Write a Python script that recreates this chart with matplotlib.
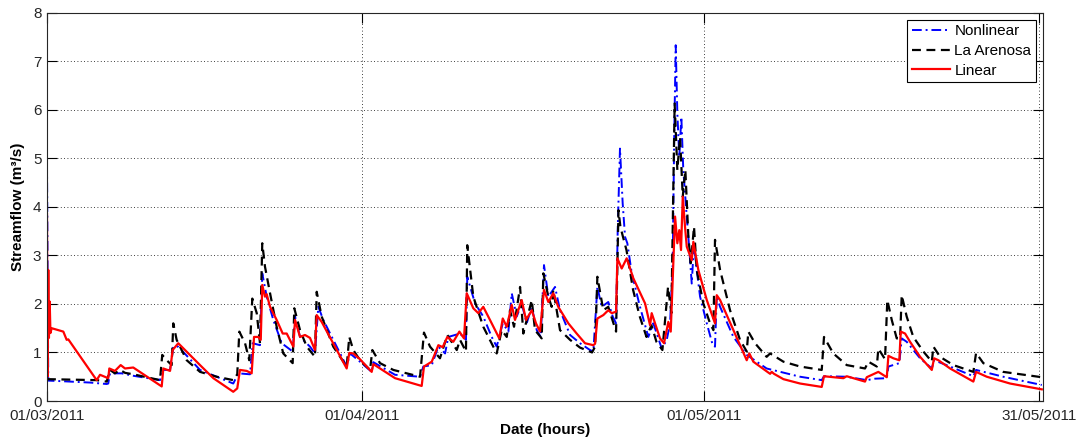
import matplotlib
matplotlib.use("Agg")
import matplotlib.pyplot as plt

plt.rcParams["font.family"] = ["Liberation Sans", "DejaVu Sans"]

# time axis in days from 01/03/2011 (positions)
tick_pos = [0, 29.13, 60.68, 91.69]
tick_labels = ["01/03/2011", "01/04/2011", "01/05/2011", "31/05/2011"]

# Nonlinear model
t_nonlin = [0, 0.12, 1.20, 3.97, 5.52, 5.66, 5.82, 6.90, 7.97, 10.44, 10.75, 11.37, 11.67, 12.13,
            14.14, 17.21, 17.68, 18.76, 19.01, 19.68, 19.89, 20.30, 20.91, 21.69, 22.70, 22.92,
            23.38, 24.30, 24.76, 25.07, 25.53, 27.69, 28.00, 28.92, 30.00, 30.15, 32.16, 34.47,
            34.77, 35.55, 36.16, 36.78, 37.08, 38.16, 38.71, 38.83, 39.55, 40.31, 41.09, 41.55,
            42.11, 42.63, 42.94, 43.40, 43.86, 44.32, 44.79, 45.25, 45.62, 45.92, 46.32, 46.94,
            47.40, 48.33, 49.25, 50.17, 50.48, 50.85, 51.25, 51.86, 52.27, 52.58, 52.73, 52.94,
            53.19, 53.41, 53.62, 54.03, 54.79, 55.56, 56.02, 56.80, 57.26, 57.57, 57.81, 57.96,
            58.09, 58.24, 58.42, 58.61, 58.79, 59.11, 59.35, 59.57, 59.78, 60.03, 60.34, 60.96,
            61.51, 61.72, 61.88, 62.19, 63.42, 64.65, 66.49, 69.58, 71.58, 71.79, 73.89, 75.74,
            76.51, 77.59, 77.74, 78.75, 78.97, 79.43, 80.67, 81.75, 81.96, 83.44, 85.59, 85.84,
            88.35, 91.91]
q_nonlin = [4.90, 0.42, 0.41, 0.38, 0.35, 0.36, 0.57, 0.57, 0.52, 0.43, 0.64, 0.64, 1.12, 1.12,
            0.64, 0.36, 0.57, 0.55, 1.19, 1.15, 2.63, 2.15, 1.67, 1.19, 1.02, 1.74,
            1.32, 1.12, 0.98, 1.94, 1.67, 0.71, 0.98, 0.81, 0.60, 0.80, 0.54, 0.50,
            0.71, 0.74, 1.12, 0.98, 1.32, 1.39, 1.26, 2.56, 2.01, 1.74, 1.32, 1.12,
            1.60, 1.43, 2.22, 1.74, 2.01, 1.60, 1.94, 1.46, 1.32, 2.80, 2.15, 2.35,
            1.87, 1.36, 1.19, 1.05, 1.02, 2.35, 1.94, 2.04, 1.74, 1.60, 3.52, 5.20,
            4.07, 3.38, 3.25, 2.63, 1.94, 1.32, 1.60, 1.08, 1.26, 1.60, 2.84, 5.58,
            7.33, 5.93, 5.03, 5.85, 4.76, 3.80, 3.11, 2.42, 3.25, 2.70, 2.15, 1.60,
            1.15, 1.12, 2.15, 1.94, 1.32, 0.95, 0.67, 0.50, 0.43, 0.51, 0.50, 0.43,
            0.46, 0.47, 0.71, 0.78, 1.29, 1.22, 0.88, 0.67, 0.84, 0.71, 0.51, 0.64,
            0.50, 0.33]

# La Arenosa (observed)
t_obs = [0, 4.59, 5.52, 5.82, 6.28, 6.75, 7.21, 7.97, 10.44, 10.65, 11.06, 11.52, 11.67, 11.98,
         12.91, 14.14, 15.68, 17.21, 17.58, 17.77, 18.30, 18.69, 18.97, 19.38, 19.68, 19.89,
         20.14, 20.61, 21.22, 21.83, 22.70, 22.85, 23.38, 24.00, 24.76, 24.92, 25.38, 26.45,
         27.69, 27.93, 28.30, 28.92, 29.85, 30.06, 30.77, 32.00, 34.47, 34.83, 35.39, 36.31,
         36.99, 37.86, 38.16, 38.71, 38.83, 39.39, 40.31, 41.55, 42.01, 42.48, 42.78, 43.15,
         43.71, 44.01, 44.79, 45.09, 45.71, 45.86, 46.32, 46.63, 46.78, 47.40, 48.33, 49.25,
         50.36, 50.64, 50.85, 51.40, 51.86, 52.58, 52.80, 52.98, 53.22, 53.54, 54.15, 54.77,
         55.39, 55.85, 56.31, 56.86, 57.38, 57.69, 57.99, 58.24, 58.49, 58.74, 58.98, 59.26,
         59.48, 59.78, 60.03, 60.64, 61.26, 61.57, 61.72, 62.19, 63.11, 64.03, 64.65, 64.80,
         65.42, 66.49, 66.81, 68.04, 69.58, 71.58, 71.79, 72.65, 73.89, 75.58, 75.89, 76.67,
         76.81, 77.43, 77.64, 78.05, 78.51, 78.82, 78.97, 79.43, 80.04, 80.97, 81.75, 81.90,
         82.51, 83.74, 85.59, 85.84, 86.51, 88.35, 91.91]
q_obs = [0.45, 0.43, 0.40, 0.64, 0.57, 0.64, 0.58, 0.55, 0.43, 0.95, 0.84, 0.74, 1.60, 1.26,
         0.84, 0.60, 0.50, 0.43, 0.55, 1.43, 1.19, 0.84, 2.11, 1.81, 1.19, 3.25,
         2.77, 2.22, 1.53, 0.98, 0.78, 1.91, 1.46, 1.12, 0.91, 2.25, 1.74, 1.12,
         0.71, 1.32, 1.05, 0.84, 0.64, 1.05, 0.78, 0.64, 0.50, 1.41, 1.12, 0.88,
         1.36, 1.05, 1.26, 1.02, 3.21, 2.15, 1.53, 0.98, 1.46, 1.32, 1.87, 1.53,
         2.35, 1.39, 2.08, 1.46, 1.29, 2.63, 2.15, 1.94, 2.29, 1.46, 1.26, 1.10,
         1.00, 1.12, 2.56, 1.87, 1.94, 1.43, 3.93, 3.59, 3.38, 3.11, 2.29, 1.74,
         1.32, 1.56, 1.22, 1.05, 2.35, 1.81, 6.13, 4.76, 5.44, 4.21, 4.76, 3.38,
         2.84, 3.59, 2.70, 2.01, 1.60, 1.46, 3.32, 2.70, 1.87, 1.26, 1.02, 1.43,
         1.19, 0.91, 0.98, 0.81, 0.71, 0.64, 1.32, 0.98, 0.74, 0.67, 0.81, 0.71,
         1.08, 0.86, 2.08, 1.67, 1.29, 1.29, 2.18, 1.74, 1.32, 1.02, 0.81, 1.12,
         0.91, 0.74, 0.60, 0.99, 0.78, 0.60, 0.49]

# Linear model
t_lin = [0, 0.05, 0.12, 0.18, 0.25, 0.32, 0.43, 1.51, 1.82, 1.97, 4.59, 4.90, 5.66, 5.76, 6.28,
         6.81, 7.21, 7.97, 10.60, 10.75, 11.37, 11.61, 12.13, 14.14, 15.37, 17.21, 17.58, 17.83,
         18.45, 18.91, 19.13, 19.52, 19.75, 19.89, 20.14, 20.30, 20.61, 21.22, 21.78, 22.15,
         22.76, 22.92, 23.38, 23.84, 24.30, 24.76, 24.92, 25.38, 27.69, 27.93, 28.30, 28.92,
         30.00, 30.15, 32.16, 34.62, 34.83, 35.55, 36.16, 36.56, 36.99, 37.54, 38.10, 38.53,
         38.78, 39.39, 39.85, 40.31, 40.93, 41.79, 42.11, 42.48, 42.94, 43.24, 43.86, 44.26,
         44.79, 45.18, 45.55, 45.92, 46.32, 46.78, 47.24, 48.17, 48.94, 49.71, 50.48, 50.64,
         50.85, 51.40, 51.86, 52.18, 52.58, 52.70, 53.10, 53.56, 54.17, 55.26, 55.72, 55.87,
         56.64, 57.01, 57.41, 57.63, 57.87, 58.03, 58.24, 58.42, 58.58, 58.74, 58.95, 59.11,
         59.57, 59.72, 60.18, 60.96, 61.72, 61.88, 62.19, 63.42, 64.65, 64.89, 65.26, 66.81,
         66.96, 67.17, 68.04, 69.58, 71.58, 71.79, 73.58, 73.89, 75.58, 75.74, 76.81, 77.59,
         77.74, 78.20, 78.75, 78.88, 79.28, 79.74, 80.67, 81.75, 81.96, 82.36, 83.44, 85.59,
         85.84, 86.83, 88.98, 91.91]
q_lin = [3.85, 0.50, 2.70, 1.30, 2.05, 1.40, 1.50, 1.43, 1.26, 1.27, 0.43, 0.54, 0.47, 0.67, 0.62,
         0.74, 0.67, 0.69, 0.30, 0.67, 0.62, 1.05, 1.19, 0.74, 0.47, 0.19, 0.26, 0.64,
         0.62, 0.57, 1.32, 1.32, 1.26, 2.39, 2.15, 2.20, 1.94, 1.67, 1.39, 1.39,
         1.12, 1.67, 1.32, 1.36, 1.30, 1.05, 1.77, 1.63, 0.67, 0.99, 0.98, 0.86,
         0.60, 0.76, 0.47, 0.31, 0.71, 0.81, 1.15, 1.11, 1.32, 1.22, 1.43, 1.29,
         2.22, 1.91, 1.81, 1.94, 1.67, 1.29, 1.70, 1.53, 1.98, 1.67, 2.08, 1.67,
         1.87, 1.60, 1.43, 2.29, 2.04, 2.22, 1.94, 1.60, 1.39, 1.19, 1.15, 1.18,
         1.70, 1.77, 1.87, 1.81, 1.84, 2.94, 2.73, 2.94, 2.53, 2.01, 1.56, 1.81,
         1.29, 1.19, 1.63, 1.43, 2.84, 3.80, 3.25, 3.52, 3.11, 4.21, 3.59, 3.18,
         2.90, 3.28, 2.70, 2.08, 1.60, 2.18, 2.08, 1.46, 0.84, 0.98, 0.81, 0.56,
         0.60, 0.56, 0.45, 0.36, 0.29, 0.51, 0.47, 0.51, 0.40, 0.49, 0.60, 0.49,
         0.93, 0.88, 0.84, 1.43, 1.39, 1.22, 0.91, 0.64, 0.88, 0.84, 0.67, 0.40,
         0.60, 0.50, 0.36, 0.24]

fig = plt.figure(figsize=(10.8, 4.41), dpi=100)
ax = fig.add_axes([0.0435, 0.0907, 0.922, 0.8805])

ax.plot(t_nonlin, q_nonlin, color="blue", lw=1.4, ls=(0, (5, 2, 1, 2)), label="Nonlinear")
ax.plot(t_obs, q_obs, color="black", lw=1.6, ls=(0, (4, 2.5)), label="La Arenosa")
ax.plot(t_lin, q_lin, color="red", lw=1.6, label="Linear")

ax.set_xlim(0, 92.0)
ax.set_ylim(0, 8)
ax.set_xticks(tick_pos)
ax.set_xticklabels(tick_labels)
ax.set_yticks(range(0, 9))
ax.grid(True, color="black", ls=(0, (1, 3)), lw=0.6)
ax.tick_params(direction="in", length=7, width=0.8, top=True, right=True,
               labelsize=11, labelcolor="#262626", pad=4)
ax.tick_params(axis="x", pad=6)
for s in ax.spines.values():
    s.set_linewidth(0.8)
    s.set_color("#262626")

ax.set_xlabel("Date (hours)", fontsize=11, fontweight="bold", labelpad=0)
ax.set_ylabel("Streamflow (m³/s)", fontsize=11, fontweight="bold", labelpad=6)

leg = ax.legend(loc="upper right", fontsize=11, fancybox=False, framealpha=1,
                edgecolor="black", borderaxespad=0.45, handlelength=2.5,
                labelspacing=0.38, borderpad=0.3, handletextpad=0.3)
leg.get_frame().set_linewidth(0.8)

fig.savefig("out.png", dpi=100)
